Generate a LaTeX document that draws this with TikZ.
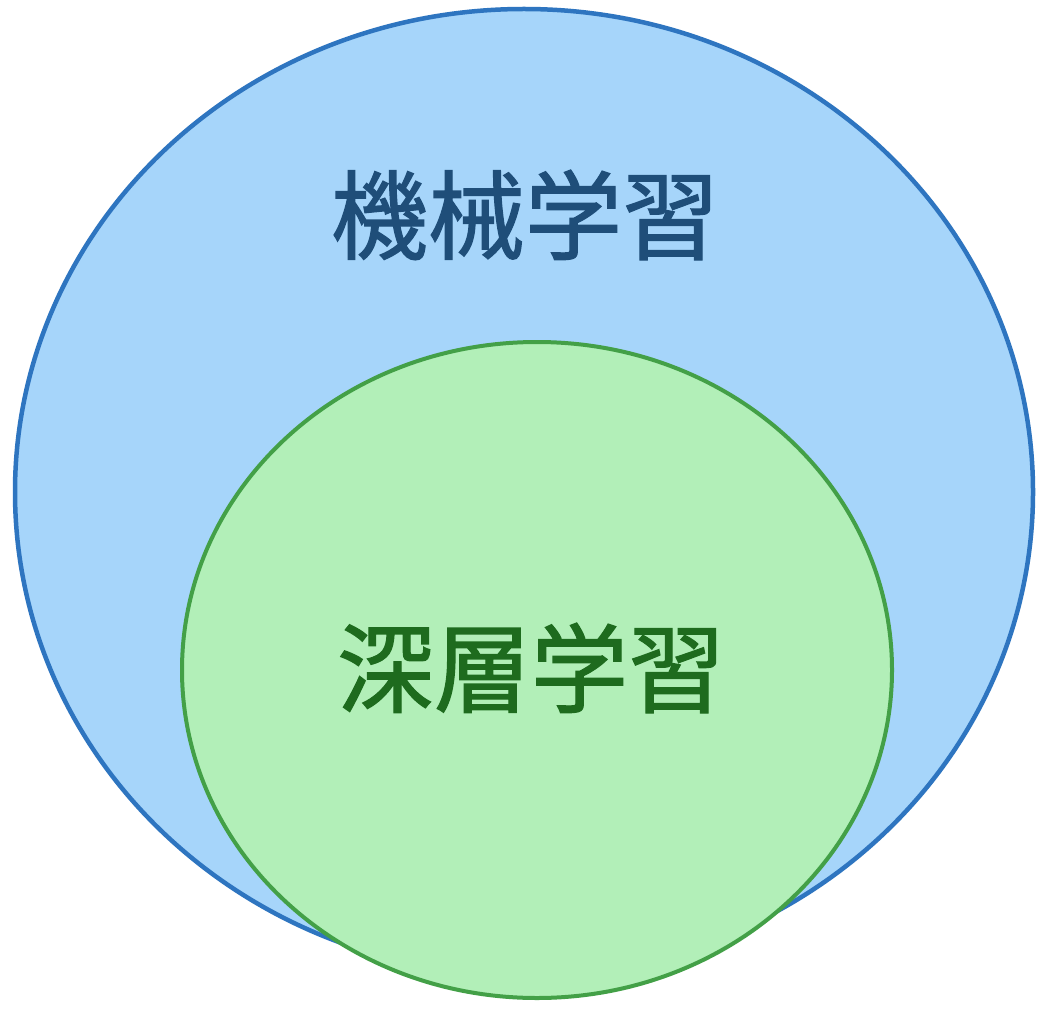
\documentclass[tikz,border=0pt]{standalone}
\usepackage{fontspec}
\newfontfamily\cjk[FakeBold=1.3]{Noto Sans CJK JP}
\definecolor{bluefill}{HTML}{A6D5FA}
\definecolor{blueline}{HTML}{2E75C0}
\definecolor{bluetext}{HTML}{1F4E79}
\definecolor{greenfill}{HTML}{B2EFB8}
\definecolor{greenline}{HTML}{43A047}
\definecolor{greentext}{HTML}{1E6B1E}
\begin{document}
\begin{tikzpicture}[x=1pt,y=-1pt,
  setlabel/.style={font=\cjk\fontsize{97}{97}\selectfont, inner sep=0pt}]
\useasboundingbox (0,0) rectangle (1056,1008);
\fill[white] (0,0) rectangle (1056,1008);
\draw[fill=bluefill, draw=blueline, line width=4.5pt] (524,492) ellipse [x radius=509, y radius=483];
\draw[fill=greenfill, draw=greenline, line width=4pt] (537,670) ellipse [x radius=355, y radius=328];
\node[setlabel, text=bluetext] (ml) at (525,215) {機械学習};
\node[setlabel, text=greentext] (dl) at (531,668) {深層学習};
\end{tikzpicture}
\end{document}
